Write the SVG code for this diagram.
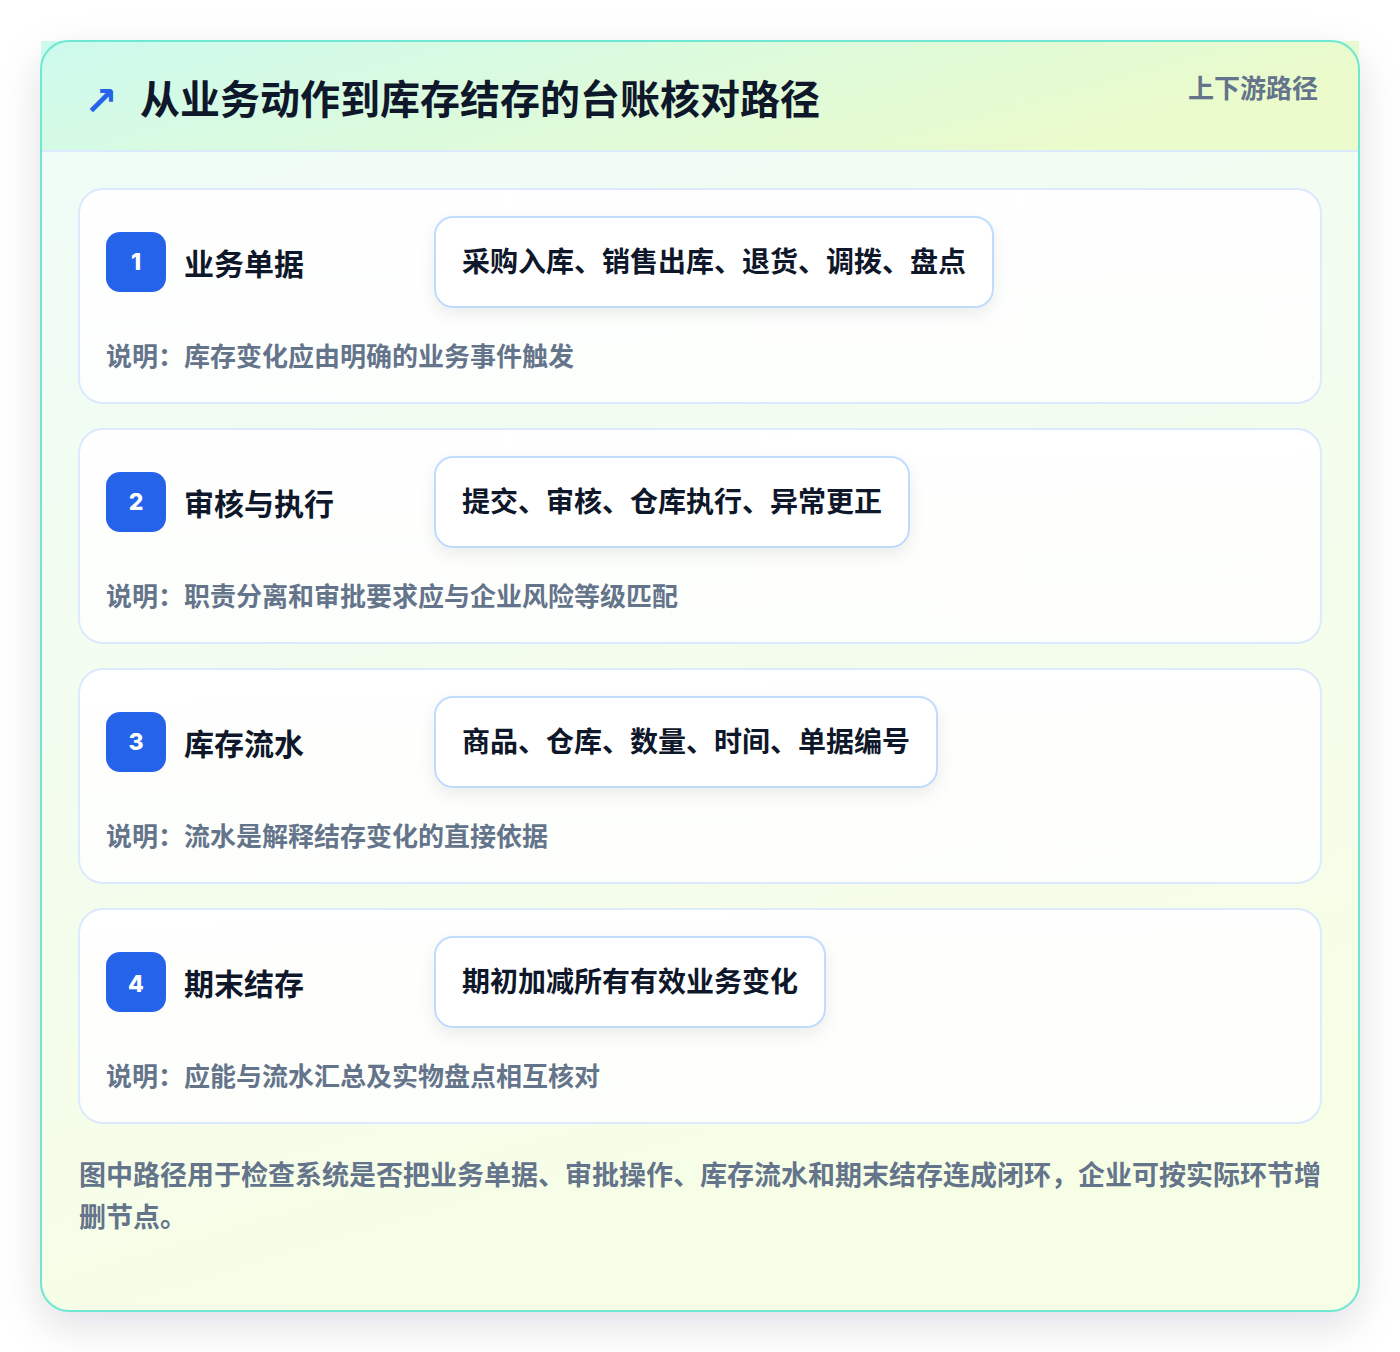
<svg xmlns="http://www.w3.org/2000/svg" width="1400" height="1352" viewBox="0 0 1400 1352">
<defs>
<linearGradient id="bodyGrad" x1="0" y1="0" x2="0.3" y2="1">
<stop offset="0" stop-color="#effcf8"/>
<stop offset="1" stop-color="#f7fee6"/>
</linearGradient>
<linearGradient id="headGrad" x1="0" y1="0" x2="1" y2="0.3">
<stop offset="0" stop-color="#cdfaee"/>
<stop offset="1" stop-color="#ebfbcb"/>
</linearGradient>
<linearGradient id="cardGrad" x1="0" y1="0" x2="0" y2="1">
<stop offset="0" stop-color="#ffffff" stop-opacity="0.95"/>
<stop offset="1" stop-color="#ffffff" stop-opacity="0.8"/>
</linearGradient>
<filter id="outerShadow" x="-10%" y="-10%" width="120%" height="120%">
<feDropShadow dx="0" dy="14" stdDeviation="20" flood-color="#0f172a" flood-opacity="0.13"/>
</filter>
<filter id="pillShadow" x="-10%" y="-30%" width="120%" height="170%">
<feDropShadow dx="0" dy="6" stdDeviation="8" flood-color="#0f172a" flood-opacity="0.07"/>
</filter>
</defs>
<style>
.card { fill: url(#cardGrad); stroke: #dbeafe; stroke-width: 2; }
.badge { fill: #2563eb; }
.badgeNum { font-family: "Inter", "Noto Sans", sans-serif; font-size: 23px; font-weight: 800; fill: #ffffff; text-anchor: middle; }
.title { font-family: "Noto Sans CJK SC", "Noto Sans", sans-serif; font-size: 30px; font-weight: 700; fill: #0f172a; }
.pill { fill: #ffffff; stroke: #bfdbfe; stroke-width: 2; }
.pillText { font-family: "Noto Sans CJK SC", "Noto Sans", sans-serif; font-size: 28px; font-weight: 700; fill: #0f172a; }
.note { font-family: "Noto Sans CJK SC", "Noto Sans", sans-serif; font-size: 26px; font-weight: 700; fill: #64748b; }
.foot { font-family: "Noto Sans CJK SC", "Noto Sans", sans-serif; font-size: 27px; font-weight: 700; fill: #64748b; }
</style>
<rect x="0" y="0" width="1400" height="1352" fill="#ffffff"/>
<g id="frame">
<rect x="41" y="41" width="1318" height="1270" rx="28" fill="url(#bodyGrad)" filter="url(#outerShadow)"/>
<rect x="41" y="41" width="1318" height="110" fill="url(#headGrad)"/>
<line x1="41" y1="151" x2="1359" y2="151" stroke="#dbeafe" stroke-width="2"/>
<rect x="41" y="41" width="1318" height="1270" rx="28" fill="none" stroke="#6ee7d3" stroke-width="2"/>
</g>
<g id="header">
<text x="84" y="115" font-family="DejaVu Sans, sans-serif" font-size="40" font-weight="700" fill="#2563eb">↗</text>
<text x="140" y="114" font-family="Noto Sans CJK SC, Noto Sans, sans-serif" font-size="40" font-weight="700" fill="#0f172a">从业务动作到库存结存的台账核对路径</text>
<text x="1318" y="98" font-family="Noto Sans CJK SC, Noto Sans, sans-serif" font-size="26" font-weight="700" fill="#64748b" text-anchor="end">上下游路径</text>
</g>
<g id="connectors"/>
<g id="step1">
<rect class="card" x="79" y="189" width="1242" height="214" rx="24"/>
<rect class="badge" x="106" y="232" width="60" height="60" rx="14"/>
<text class="badgeNum" x="136" y="270">1</text>
<text class="title" x="184" y="275">业务单据</text>
<rect class="pill" x="435" y="217" width="558" height="90" rx="18" filter="url(#pillShadow)"/>
<text class="pillText" x="462" y="272">采购入库、销售出库、退货、调拨、盘点</text>
<text class="note" x="106" y="366">说明：库存变化应由明确的业务事件触发</text>
</g>
<g id="step2">
<rect class="card" x="79" y="429" width="1242" height="214" rx="24"/>
<rect class="badge" x="106" y="472" width="60" height="60" rx="14"/>
<text class="badgeNum" x="136" y="510">2</text>
<text class="title" x="184" y="515">审核与执行</text>
<rect class="pill" x="435" y="457" width="474" height="90" rx="18" filter="url(#pillShadow)"/>
<text class="pillText" x="462" y="512">提交、审核、仓库执行、异常更正</text>
<text class="note" x="106" y="606">说明：职责分离和审批要求应与企业风险等级匹配</text>
</g>
<g id="step3">
<rect class="card" x="79" y="669" width="1242" height="214" rx="24"/>
<rect class="badge" x="106" y="712" width="60" height="60" rx="14"/>
<text class="badgeNum" x="136" y="750">3</text>
<text class="title" x="184" y="755">库存流水</text>
<rect class="pill" x="435" y="697" width="502" height="90" rx="18" filter="url(#pillShadow)"/>
<text class="pillText" x="462" y="752">商品、仓库、数量、时间、单据编号</text>
<text class="note" x="106" y="846">说明：流水是解释结存变化的直接依据</text>
</g>
<g id="step4">
<rect class="card" x="79" y="909" width="1242" height="214" rx="24"/>
<rect class="badge" x="106" y="952" width="60" height="60" rx="14"/>
<text class="badgeNum" x="136" y="992">4</text>
<text class="title" x="184" y="995">期末结存</text>
<rect class="pill" x="435" y="937" width="390" height="90" rx="18" filter="url(#pillShadow)"/>
<text class="pillText" x="462" y="992">期初加减所有有效业务变化</text>
<text class="note" x="106" y="1086">说明：应能与流水汇总及实物盘点相互核对</text>
</g>
<g id="footer">
<text class="foot" x="79" y="1185">图中路径用于检查系统是否把业务单据、审批操作、库存流水和期末结存连成闭环，企业可按实际环节增</text>
<text class="foot" x="79" y="1227">删节点。</text>
</g>
</svg>
